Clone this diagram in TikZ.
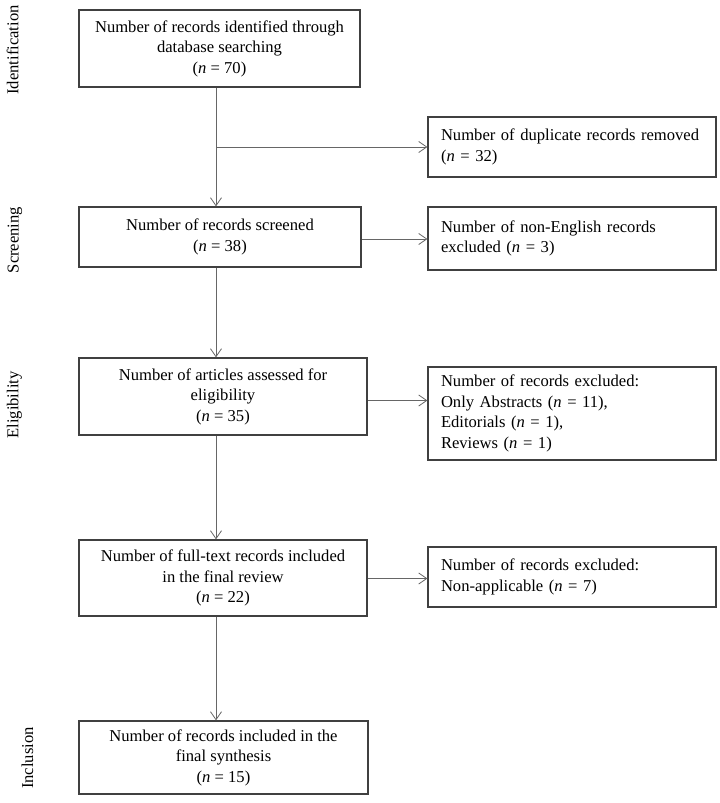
\documentclass[tikz,border=0pt]{standalone}
\usepackage{fontspec}
\setmainfont{Liberation Serif}
\usetikzlibrary{arrows.meta}
\begin{document}
\begin{tikzpicture}[x=1pt,y=-1pt,
  every node/.style={font=\fontsize{16.6}{20.5}\selectfont},
  box/.style={draw=black!75,line width=1.2pt,inner sep=0pt,align=center},
  rbox/.style={draw=black!75,line width=1.2pt,inner xsep=13pt,inner ysep=0pt,text width=262pt,minimum width=288pt,align=left},
  arr/.style={draw=black!60,line width=0.8pt,-{Straight Barb[length=8pt,width=11pt]}},
  side/.style={rotate=90,inner sep=0pt}]
\useasboundingbox (0,0) rectangle (720,803);
\coordinate (ax) at (216,0);
\node[box,minimum width=281pt,minimum height=77pt] (b1) at (219.5,48.5)
  {Number of records identified through\\database searching\\(\textit{n} = 70)};
\node[box,minimum width=282pt,minimum height=60pt] (b2) at (220,237)
  {Number of records screened\\(\textit{n} = 38)};
\node[box,minimum width=288pt,minimum height=77pt] (b3) at (223,396.5)
  {Number of articles assessed for\\eligibility\\(\textit{n} = 35)};
\node[box,minimum width=288pt,minimum height=76pt] (b4) at (223,578)
  {Number of full-text records included\\in the final review\\(\textit{n} = 22)};
\node[box,minimum width=289pt,minimum height=73pt] (b5) at (223.5,757.5)
  {Number of records included in the\\final synthesis\\(\textit{n} = 15)};
\node[rbox,minimum height=60pt] (r1) at (572,147)
  {Number of duplicate records removed\\(\textit{n} = 32)};
\node[rbox,minimum height=63pt] (r2) at (572,238.5)
  {Number of non-English records\\excluded (\textit{n} = 3)};
\node[rbox,minimum height=93pt] (r3) at (572,413.5)
  {Number of records excluded:\\Only Abstracts (\textit{n} = 11),\\Editorials (\textit{n} = 1),\\Reviews (\textit{n} = 1)};
\node[rbox,minimum height=60pt] (r4) at (572,577)
  {Number of records excluded:\\Non-applicable (\textit{n} = 7)};
\node[side] (s1) at (12.5,50) {Identification};
\node[side] (s2) at (15,240) {Screening};
\node[side] (s3) at (14.5,405) {Eligibility};
\node[side] (s4) at (27.5,758) {Inclusion};
\coordinate (br) at (216,147);
\draw[arr] (b1.south -| ax) -- (b2.north -| ax);
\draw[arr] (br) -- (br -| r1.west);
\draw[arr] (b2.south -| ax) -- (b3.north -| ax);
\draw[arr] (b3.south -| ax) -- (b4.north -| ax);
\draw[arr] (b4.south -| ax) -- (b5.north -| ax);
\coordinate (h2) at (0,239);
\coordinate (h3) at (0,400.5);
\coordinate (h4) at (0,578.5);
\draw[arr] (h2 -| b2.east) -- (h2 -| r2.west);
\draw[arr] (h3 -| b3.east) -- (h3 -| r3.west);
\draw[arr] (h4 -| b4.east) -- (h4 -| r4.west);
\end{tikzpicture}
\end{document}
